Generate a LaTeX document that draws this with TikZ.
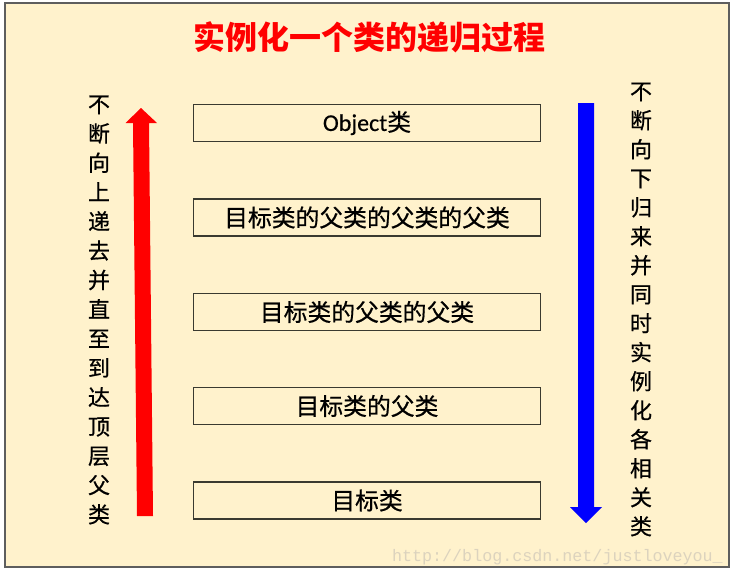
\documentclass[tikz,border=0pt]{standalone}
\usepackage{fontspec}
\newfontfamily\cjk{Noto Sans CJK SC}
\newfontfamily\cjkm[FakeBold=0.6]{Noto Sans CJK SC}
\newfontfamily\lat[FakeBold=0.4]{Carlito}
\newfontfamily\wm{Liberation Mono}
\definecolor{bg}{HTML}{FFF2CC}
\definecolor{frameline}{HTML}{5E5E5E}
\definecolor{boxline}{HTML}{3A3A30}
\definecolor{wmcol}{HTML}{DCD3BE}
\definecolor{upred}{HTML}{FF0000}
\definecolor{downblue}{HTML}{0000FF}
\begin{document}
\begin{tikzpicture}[x=1pt,y=-1pt,
  titletext/.style={font=\cjk\bfseries\fontsize{32}{36}\selectfont, text=upred, inner sep=0pt},
  classbox/.style={draw=boxline, line width=1.2pt, fill=bg, minimum width=347pt, minimum height=37pt, inner sep=0pt, font=\cjkm\fontsize{23.8}{26}\selectfont},
  lefttext/.style={font=\cjkm\fontsize{22}{29.3}\selectfont, align=center, inner sep=0pt},
  righttext/.style={font=\cjkm\fontsize{22}{29}\selectfont, align=center, inner sep=0pt},
  watermark/.style={font=\wm\fontsize{16.7}{20}\selectfont, text=wmcol, inner sep=0pt}]
\useasboundingbox (0,0) rectangle (735,576);
\fill[white] (0,0) rectangle (735,576);
\draw[fill=bg, draw=frameline, line width=1.2pt] (5,3) rectangle (729,567);
\node[titletext] (title) at (369,37) {实例化一个类的递归过程};
\node[classbox] (c0) at (367,123) {{\lat\fontsize{24}{26}\selectfont Object}类};
\node[classbox] (c1) at (367,217.5) {目标类的父类的父类的父类};
\node[classbox] (c2) at (367,312) {目标类的父类的父类};
\node[classbox] (c3) at (367,406) {目标类的父类};
\node[classbox] (c4) at (367,500.5) {目标类};
% red up arrow
\fill[upred] (137,516) -- (133,123) -- (125.5,123) -- (141,108) -- (157,123) -- (149,123) -- (153,516) -- cycle;
% blue down arrow
\fill[downblue] (578,103) -- (594,103) -- (594,507) -- (602,507) -- (586,523) -- (570,507) -- (578,507) -- cycle;
\node[lefttext] (lt) at (99,310) {不\\断\\向\\上\\递\\去\\并\\直\\至\\到\\达\\顶\\层\\父\\类};
\node[righttext] (rt) at (641,309.5) {不\\断\\向\\下\\归\\来\\并\\同\\时\\实\\例\\化\\各\\相\\关\\类};
\node[watermark, anchor=east] (wm) at (723,557) {http://blog.csdn.net/justloveyou\_};
\end{tikzpicture}
\end{document}
